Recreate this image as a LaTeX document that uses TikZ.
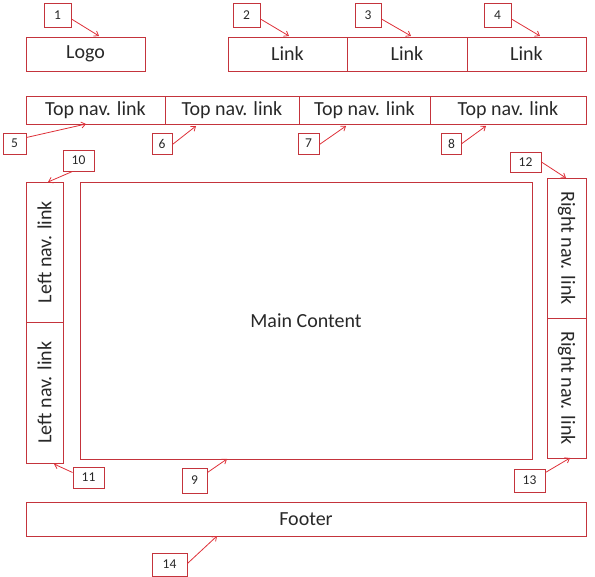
\documentclass[tikz,border=0pt]{standalone}
\usepackage{fontspec}
\setmainfont{Carlito}
\usetikzlibrary{arrows.meta}
\definecolor{boxred}{RGB}{196,52,60}
\definecolor{arrred}{RGB}{222,48,56}
\definecolor{txt}{RGB}{40,40,40}
\tikzset{
  box/.style={draw=boxred, line width=0.9pt, rectangle, inner sep=0pt, text=txt, font=\fontsize{20}{23}\selectfont},
  sidetext/.style={text=txt, font=\fontsize{20}{23}\selectfont},
  numbox/.style={draw=boxred, line width=0.9pt, rectangle, inner sep=0pt, text=txt, font=\fontsize{13.5}{15}\selectfont},
  ptr/.style={draw=arrred, line width=0.8pt, -{Straight Barb[length=4pt,width=6pt]}}
}
\begin{document}
\begin{tikzpicture}[x=1pt,y=-1pt]
\useasboundingbox (0,0) rectangle (595,577);
% main boxes
\node[box, minimum width=119, minimum height=34] (logo) at (85.5,54) {Logo};
\node[box, minimum width=119, minimum height=34] (l2) at (287.5,54) {Link};
\node[box, minimum width=120, minimum height=34] (l3) at (407,54) {Link};
\node[box, minimum width=119, minimum height=34] (l4) at (526.5,54) {Link};
\node[box, minimum width=139, minimum height=28] (t5) at (95.5,110) {Top nav. link};
\node[box, minimum width=134, minimum height=28] (t6) at (232,110) {Top nav. link};
\node[box, minimum width=131, minimum height=28] (t7) at (364.5,110) {Top nav. link};
\node[box, minimum width=156, minimum height=28] (t8) at (508,110) {Top nav. link};
\node[box, minimum width=37, minimum height=140] (ln1) at (44.5,252) {};
\node[sidetext, rotate=90] (ln1t) at (ln1.center) {Left nav. link};
\node[box, minimum width=37, minimum height=141] (ln2) at (44.5,392.5) {};
\node[sidetext, rotate=90] (ln2t) at (ln2.center) {Left nav. link};
\node[box, minimum width=452, minimum height=277] (main) at (306,320.5) {Main Content};
\node[box, minimum width=39, minimum height=140] (rn1) at (566.5,248) {};
\node[sidetext, rotate=-90] (rn1t) at (rn1.center) {Right nav. link};
\node[box, minimum width=39, minimum height=140] (rn2) at (566.5,388) {};
\node[sidetext, rotate=-90] (rn2t) at (rn2.center) {Right nav. link};
\node[box, minimum width=560, minimum height=34] (foot) at (306,519) {Footer};
% number boxes
\node[numbox, minimum width=27, minimum height=24] (n1) at (57.5,15) {1};
\node[numbox, minimum width=27, minimum height=24] (n2) at (246.5,15) {2};
\node[numbox, minimum width=26, minimum height=24] (n3) at (368,15) {3};
\node[numbox, minimum width=27, minimum height=24] (n4) at (497.5,15) {4};
\node[numbox, minimum width=23, minimum height=21] (n5) at (14.5,143.5) {5};
\node[numbox, minimum width=20, minimum height=21] (n6) at (162,143.5) {6};
\node[numbox, minimum width=21, minimum height=21] (n7) at (308.5,143.5) {7};
\node[numbox, minimum width=20, minimum height=21] (n8) at (451.5,143.5) {8};
\node[numbox, minimum width=25, minimum height=25] (n9) at (194.5,480.5) {9};
\node[numbox, minimum width=31, minimum height=21] (n10) at (78.5,160.5) {10};
\node[numbox, minimum width=31, minimum height=21] (n11) at (88.5,477.5) {11};
\node[numbox, minimum width=31, minimum height=20] (n12) at (525.5,162) {12};
\node[numbox, minimum width=31, minimum height=23] (n13) at (529.5,480.5) {13};
\node[numbox, minimum width=35, minimum height=23] (n14) at (169.5,564.5) {14};
% arrow targets
\coordinate (a1) at (99,36);
\coordinate (a2) at (289,36);
\coordinate (a3) at (411,36);
\coordinate (a4) at (540,36);
\coordinate (a5) at (86,124);
\coordinate (a6) at (196,126);
\coordinate (a7) at (346,126);
\coordinate (a8) at (486,126);
\coordinate (a9) at (227,459);
\coordinate (a10) at (48,182);
\coordinate (a11) at (54,464);
\coordinate (a12) at (566,178);
\coordinate (a13) at (570,458);
\coordinate (a14) at (217,536);
% arrows
\draw[ptr] ([yshift=-4pt]n1.east) -- (a1);
\draw[ptr] ([yshift=-4pt]n2.east) -- (a2);
\draw[ptr] ([yshift=-4pt]n3.east) -- (a3);
\draw[ptr] ([yshift=-4pt]n4.east) -- (a4);
\draw[ptr] ([yshift=6pt]n5.east) -- (a5);
\draw[ptr] ([yshift=-1pt]n6.east) -- (a6);
\draw[ptr] ([yshift=-1pt]n7.east) -- (a7);
\draw[ptr] (n8.east) -- (a8);
\draw[ptr] ([yshift=8pt]n9.east) -- (a9);
\draw[ptr] ([xshift=-6pt]n10.south) -- (a10);
\draw[ptr] ([yshift=5pt]n11.west) -- (a11);
\draw[ptr] (n12.east) -- (a12);
\draw[ptr] ([yshift=8pt]n13.east) -- (a13);
\draw[ptr] ([yshift=1pt]n14.east) -- (a14);
\end{tikzpicture}
\end{document}
